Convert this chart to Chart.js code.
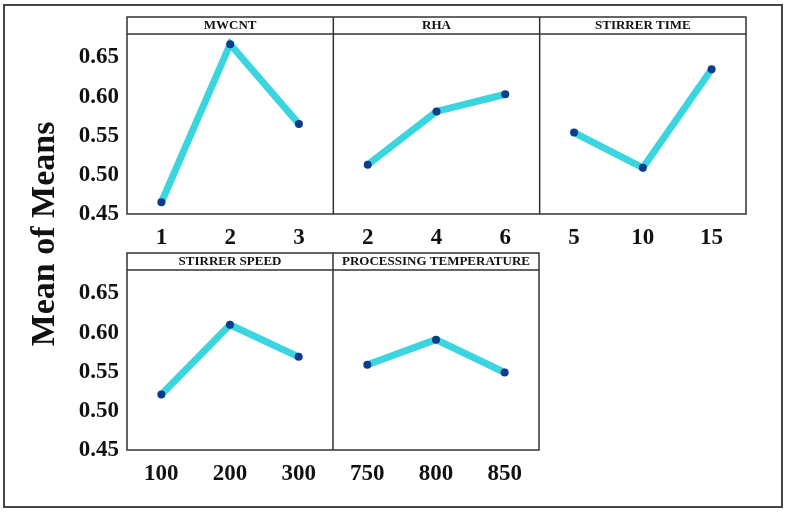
<!DOCTYPE html>
<html>
<head>
<meta charset="utf-8">
<script src="https://cdn.jsdelivr.net/npm/chart.js@4"></script>
<style>
  body { margin: 0; background: #fff; width: 786px; height: 513px; position: relative; overflow: hidden; }
  #frame { position: absolute; left: 3px; top: 4px; width: 780px; height: 504px; box-sizing: border-box; border: 2px solid #444; }
  canvas { position: absolute; left: 0; }
  #row-one { top: 0; }
  #row-two { top: 236px; }
  #y-title { position: absolute; left: -106px; top: 214px; width: 300px; height: 40px; line-height: 40px; text-align: center;
    transform: rotate(-90deg); font: bold 34px 'Liberation Serif', 'Times New Roman', serif; color: #111; }
</style>
</head>
<body>
<div id="frame"></div>
<canvas id="row-one" width="760" height="254"></canvas>
<canvas id="row-two" width="560" height="254"></canvas>
<div id="y-title">Mean of Means</div>
<script>
const yTicks = [0.45, 0.50, 0.55, 0.60, 0.65];

const mwcntLevels = ['1', '2', '3'];
const mwcntMeans = [0.465, 0.667, 0.565];
const rhaLevels = ['2', '4', '6'];
const rhaMeans = [0.513, 0.581, 0.603];
const timeLevels = ['5', '10', '15'];
const timeMeans = [0.554, 0.509, 0.635];
const speedLevels = ['100', '200', '300'];
const speedMeans = [0.521, 0.610, 0.569];
const tempLevels = ['750', '800', '850'];
const tempMeans = [0.559, 0.591, 0.549];

const lineColor = '#3ad5de';
const dotColor = '#0b3d8c';
const edgeColor = '#333';

// draws the boxes, dividers and the strip headers of each panel
const panelFrame = {
    id: 'panelFrame',
    afterDraw(chart, args, opts) {
        const ctx = chart.ctx;
        const a = chart.chartArea;
        const n = opts.titles.length;
        const w = (a.right - a.left) / n;
        const top = a.top - 17;
        ctx.save();
        ctx.strokeStyle = edgeColor;
        ctx.lineWidth = 1.5;
        ctx.strokeRect(a.left, top, a.right - a.left, a.bottom - top);
        ctx.beginPath();
        ctx.moveTo(a.left, a.top);
        ctx.lineTo(a.right, a.top);
        for (let i = 1; i < n; i++) {
            ctx.moveTo(a.left + i * w, top);
            ctx.lineTo(a.left + i * w, a.bottom);
        }
        ctx.stroke();
        ctx.fillStyle = '#111';
        ctx.font = "bold 13px 'Liberation Serif'";
        ctx.textAlign = 'center';
        ctx.textBaseline = 'middle';
        opts.titles.forEach((t, i) => {
            ctx.fillText(t, a.left + (i + 0.5) * w, top + 9);
        });
        ctx.restore();
    }
};

function makeRow(id, panels, rightPad) {
    const labels = [];
    panels.forEach(p => labels.push(...p.levels));
    const datasets = panels.map((p, k) => {
        const data = labels.map(() => null);
        p.means.forEach((v, j) => { data[k * 3 + j] = v; });
        return {
            label: p.title,
            data: data,
            borderColor: lineColor,
            borderWidth: 7,
            pointRadius: 4,
            pointHoverRadius: 4,
            pointBackgroundColor: dotColor,
            pointBorderWidth: 0,
            spanGaps: false
        };
    });

    new Chart(document.getElementById(id).getContext('2d'), {
        type: 'line',
        data: { labels: labels, datasets: datasets },
        options: {
            responsive: false,
            animation: false,
            layout: { padding: { left: 0, top: 34, right: rightPad, bottom: 0 } },
            plugins: {
                legend: { display: false },
                tooltip: { enabled: false },
                panelFrame: { titles: panels.map(p => p.title) }
            },
            scales: {
                x: {
                    type: 'category',
                    offset: true,
                    grid: { display: false },
                    border: { display: false },
                    afterFit: s => { s.height = 40; },
                    ticks: {
                        autoSkip: false,
                        maxRotation: 0,
                        padding: 2,
                        color: '#111',
                        font: { family: 'Liberation Serif', size: 23, weight: 'bold' }
                    }
                },
                y: {
                    min: 0.45,
                    max: 0.68,
                    grid: { display: false },
                    border: { display: false },
                    afterFit: s => { s.width = 127; },
                    afterBuildTicks: s => { s.ticks = yTicks.map(v => ({ value: v })); },
                    ticks: {
                        padding: 0,
                        color: '#111',
                        font: { family: 'Liberation Serif', size: 23, weight: 'bold' },
                        callback: v => v.toFixed(2)
                    }
                }
            }
        },
        plugins: [panelFrame]
    });
}

makeRow('row-one', [
    { title: 'MWCNT', levels: mwcntLevels, means: mwcntMeans },
    { title: 'RHA', levels: rhaLevels, means: rhaMeans },
    { title: 'STIRRER TIME', levels: timeLevels, means: timeMeans }
], 14);

makeRow('row-two', [
    { title: 'STIRRER SPEED', levels: speedLevels, means: speedMeans },
    { title: 'PROCESSING TEMPERATURE', levels: tempLevels, means: tempMeans }
], 21);
</script>
</body>
</html>
